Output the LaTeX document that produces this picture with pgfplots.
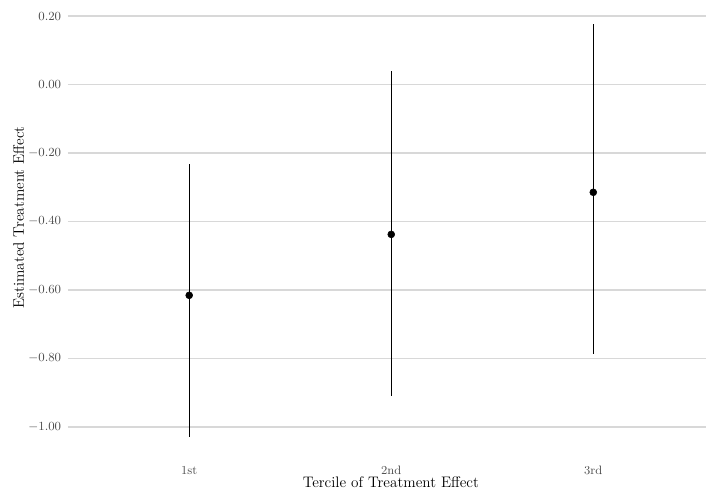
\documentclass[border=0pt]{standalone}
\usepackage{pgfplots}
\pgfplotsset{compat=1.18}
\definecolor{tickgray}{HTML}{4D4D4D}
\definecolor{gridgray}{HTML}{D8D8D8}
\begin{document}
\begin{tikzpicture}
\begin{axis}[
  scale only axis,
  width=6.38in, height=4.536in,
  xmin=0.4, xmax=3.558,
  ymin=-1.0884, ymax=0.237,
  axis line style={draw=none},
  major tick length=0pt,
  xtick={1,2,3},
  xticklabels={1st,2nd,3rd},
  ytick={-1,-0.8,-0.6,-0.4,-0.2,0,0.2},
  yticklabel style={/pgf/number format/fixed, /pgf/number format/fixed zerofill, /pgf/number format/precision=2},
  ymajorgrids,
  xmajorgrids=false,
  major grid style={draw=gridgray, line width=1.1pt},
  tick label style={font=\fontsize{8.8}{10}\selectfont, text=tickgray, inner sep=0pt},
  yticklabel style={anchor=east, xshift=-0.066in},
  xticklabel style={anchor=base, yshift=-0.173in},
  label style={font=\fontsize{11}{13}\selectfont, text=black, inner sep=0pt},
  xlabel={Tercile of Treatment Effect},
  ylabel={Estimated Treatment Effect},
  xlabel style={at={(axis description cs:0.506,-0.0683)}, anchor=base},
  ylabel style={at={(axis description cs:-0.069,0.528)}, anchor=base},
  clip=false,
]
\addplot[only marks, mark=*, mark size=2.5pt, black,
  error bars/.cd, y dir=both, y explicit, error mark=none,
  error bar style={line width=0.9pt, black}]
  coordinates {
    (1,-0.616) += (0,0.383) -= (0,0.413)
    (2,-0.438) += (0,0.478) -= (0,0.471)
    (3,-0.315) += (0,0.492) -= (0,0.473)
  };
\end{axis}
\pgfresetboundingbox
\path (-0.68in,-0.33in) rectangle (6.38in,4.57in);
\end{tikzpicture}
\end{document}
